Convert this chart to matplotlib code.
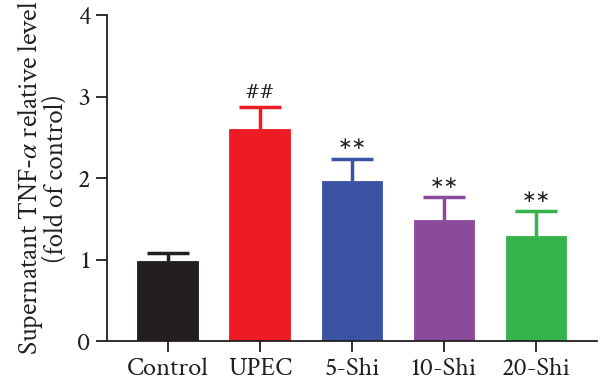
import matplotlib
matplotlib.use("Agg")
import matplotlib.pyplot as plt

categories = ["Control", "UPEC", "5-Shi", "10-Shi", "20-Shi"]
values = [0.98, 2.60, 1.96, 1.485, 1.29]
errors = [0.10, 0.27, 0.28, 0.28, 0.305]
marks = ["", "##", "\u2217\u2217", "\u2217\u2217", "\u2217\u2217"]
colors = ["#231f20", "#ed1c24", "#3a53a4", "#8b4a9c", "#34b44a"]
yticks = [0, 1, 2, 3, 4]

plt.rcParams['font.family'] = ['Crimson Text', 'DejaVu Serif']
plt.rcParams['mathtext.fontset'] = 'stix'

fig = plt.figure(figsize=(6, 3.89), dpi=100)
ax = fig.add_axes([0.178, 0.123, 0.817, 0.838])

x = list(range(len(categories)))
ax.bar(x, values, width=0.66, color=colors, edgecolor=colors, linewidth=0.6, zorder=2)
for xi, v, e, c, m in zip(x, values, errors, colors, marks):
    eb = ax.errorbar([xi], [v], yerr=[[0], [e]], fmt='none', ecolor=c,
                     elinewidth=2.5, capsize=15, capthick=2.5, zorder=1)
    caps = eb[1]
    if len(caps) == 2:
        caps[0].set_visible(False)
    if m:
        ax.annotate(m, (xi, v + e), xytext=(0, 4), textcoords='offset points',
                    ha='center', va='bottom', fontsize=12.5 if m != "##" else 13,
                    color='#231f20',
                    family=['DejaVu Sans'] if m != "##" else ['DejaVu Serif'])

ax.set_xlim(-0.663, 4.663)
ax.set_ylim(0, 4)
ax.set_yticks(yticks)
ax.set_yticklabels([str(t) for t in yticks])
ax.set_xticks(x)
ax.set_xticklabels(categories)
for s in ['top', 'right']:
    ax.spines[s].set_visible(False)
for s in ['left', 'bottom']:
    ax.spines[s].set_linewidth(1.3)
    ax.spines[s].set_color('#231f20')
ax.tick_params(axis='both', direction='out', length=8, width=1.3, color='#231f20',
               labelsize=19, labelcolor='#231f20', pad=4)
ax.set_ylabel("Supernatant TNF-$\\mathit{\\alpha}$ relative level\n(fold of control)",
              fontsize=19.5, color='#231f20', linespacing=0.9, labelpad=6)

fig.savefig("out.png", dpi=100)
